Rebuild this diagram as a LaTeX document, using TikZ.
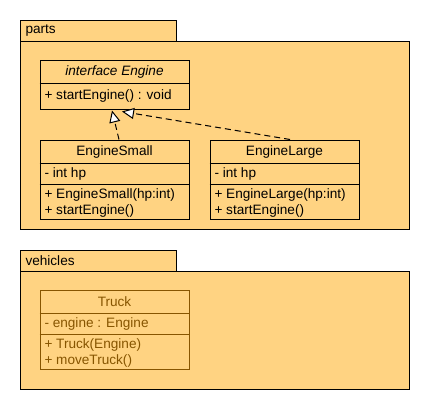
\documentclass[tikz,border=0pt]{standalone}
\usepackage{fontspec}
\setmainfont{Liberation Sans}
\usetikzlibrary{arrows.meta}
\definecolor{pkgfill}{RGB}{255,211,130}
\definecolor{dimtext}{RGB}{135,85,0}
\begin{document}
\begin{tikzpicture}[x=1pt, y=-1pt, line width=1pt, font=\fontsize{13.6}{15}\selectfont,
  pkg/.style={draw, fill=pkgfill, inner sep=0pt, anchor=north west},
  classbox/.style={draw, rectangle, minimum width=149pt, minimum height=79pt, inner sep=0pt},
  member/.style={anchor=west, inner sep=0pt},
  realize/.style={dash pattern=on 6pt off 4pt, -{Triangle[open, fill=white, length=12pt, width=11pt]}}]
\useasboundingbox (0,0) rectangle (430,410);
% package parts
\node [pkg, minimum width=156pt, minimum height=21pt] (partstab) at (20,20) {};
\node [pkg, minimum width=389pt, minimum height=188pt] (parts) at (20,41) {};
\node [member] (partsname) at (25,31) {parts};
% package vehicles
\node [pkg, minimum width=156pt, minimum height=21pt] (vehtab) at (20,250) {};
\node [pkg, minimum width=389pt, minimum height=118pt] (vehicles) at (20,271) {};
\node [member] (vehname) at (25,261) {vehicles};
% interface Engine
\node [classbox, minimum height=49pt] (engine) at (114.5,84.5) {};
\draw (engine.west |- 0,83) -- (engine.east |- 0,83);
\node (enginename) at (114.5,72) {\itshape interface Engine};
\node [member] (engineop) at (44,96) {+ startEngine() : void};
% EngineSmall
\node [classbox] (small) at (114.5,179.5) {};
\draw (small.west |- 0,163) -- (small.east |- 0,163);
\draw (small.west |- 0,184) -- (small.east |- 0,184);
\node (smallname) at (114.5,152) {EngineSmall};
\node [member] (smallattr) at (44,174) {- int hp};
\node [member] (smallop1) at (44,195) {+ EngineSmall(hp:int)};
\node [member] (smallop2) at (44,211) {+ startEngine()};
% EngineLarge
\node [classbox] (large) at (284.5,179.5) {};
\draw (large.west |- 0,163) -- (large.east |- 0,163);
\draw (large.west |- 0,184) -- (large.east |- 0,184);
\node (largename) at (284.5,152) {EngineLarge};
\node [member] (largeattr) at (214,174) {- int hp};
\node [member] (largeop1) at (214,195) {+ EngineLarge(hp:int)};
\node [member] (largeop2) at (214,211) {+ startEngine()};
% Truck
\node [classbox, draw=dimtext] (truck) at (114.5,329.5) {};
\draw [dimtext] (truck.west |- 0,313) -- (truck.east |- 0,313);
\draw [dimtext] (truck.west |- 0,334) -- (truck.east |- 0,334);
\node [text=dimtext] (truckname) at (114.5,302) {Truck};
\node [member, text=dimtext] (truckattr) at (44,324) {- engine : Engine};
\node [member, text=dimtext] (truckop1) at (44,345) {+ Truck(Engine)};
\node [member, text=dimtext] (truckop2) at (44,361) {+ moveTruck()};
% realizations
\draw [realize] ([xshift=4.5pt]small.north) -- ([xshift=-2.5pt,yshift=-1pt]engine.south);
\draw [realize] ([xshift=5.5pt]large.north) -- ([xshift=7.5pt,yshift=-2pt]engine.south);
\end{tikzpicture}
\end{document}
